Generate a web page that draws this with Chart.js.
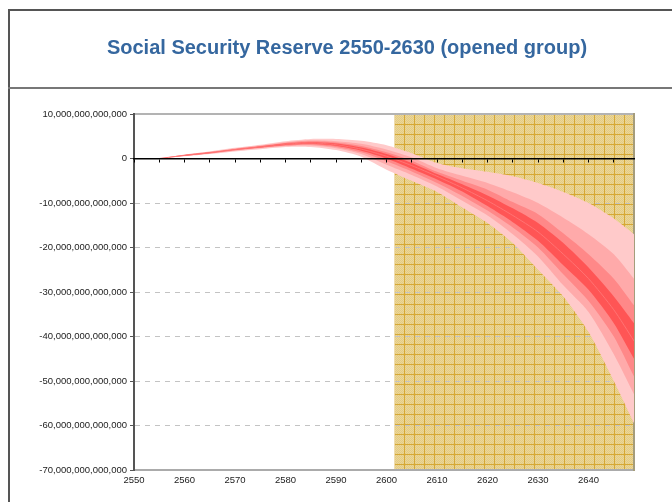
<!DOCTYPE html>
<html>
<head>
<meta charset="utf-8">
<script src="https://cdn.jsdelivr.net/npm/chart.js@4/dist/chart.umd.min.js"></script>
<style>
	body { margin: 0; background: #fff; overflow: hidden; }
	.frame { position: absolute; left: 8px; top: 9px; width: 700px; height: 520px; border-left: 2px solid #555; border-top: 2px solid #555; }
	.rule { position: absolute; left: 8px; top: 87px; width: 700px; height: 0; border-top: 2px solid #777; }
	canvas { position: absolute; left: 0; top: 0; }
</style>
</head>
<body>
<div class="frame"></div>
<div class="rule"></div>
<canvas id="chart" width="672" height="502"></canvas>
<script>
// values in trillions (1e12)
const years = [2555, 2560, 2565, 2570, 2575, 2580, 2585, 2590, 2595, 2600, 2605, 2610, 2615, 2620, 2625, 2630, 2635, 2640, 2645, 2649];
const median = [0, 0.7, 1.3, 2.0, 2.6, 3.2, 3.5, 3.1, 2.1, 0.5, -1.6, -4.0, -6.6, -9.5, -12.8, -16.5, -21.5, -27, -34, -41];
const hi1 = [0, 0.9, 1.6, 2.4, 3.1, 3.9, 4.4, 4.4, 4.0, 3.0, 1.2, -1.0, -2.2, -3.0, -4.0, -5.5, -7.5, -10, -13.5, -17];
const hi2 = [0, 0.85, 1.5, 2.25, 2.9, 3.65, 4.1, 3.9, 3.3, 2.0, 0.2, -2.2, -3.9, -5.5, -7.6, -10, -13.3, -17, -21.5, -27];
const hi3 = [0, 0.8, 1.45, 2.15, 2.8, 3.5, 3.85, 3.6, 2.8, 1.4, -0.5, -3.0, -5.0, -7.0, -9.8, -12.5, -16.8, -21.5, -27, -33];
const hi4 = [0, 0.75, 1.35, 2.05, 2.7, 3.35, 3.65, 3.35, 2.45, 1.0, -1.0, -3.5, -5.8, -8.3, -11.2, -14.5, -19, -24.5, -31, -37];
const lo4 = [0, 0.65, 1.25, 1.95, 2.5, 3.05, 3.3, 2.85, 1.75, 0, -2.3, -4.7, -7.4, -10.7, -14.3, -18.5, -24, -29.5, -37, -45];
const lo3 = [0, 0.6, 1.15, 1.85, 2.4, 2.9, 3.1, 2.6, 1.4, -0.6, -2.9, -5.5, -8.4, -11.7, -15.5, -20, -26, -32, -40, -49];
const lo2 = [0, 0.55, 1.1, 1.75, 2.3, 2.8, 2.9, 2.3, 1.0, -1.4, -3.7, -6.3, -9.5, -12.8, -17.0, -22, -28.5, -34.5, -44, -53];
const lo1 = [0, 0.5, 1.0, 1.6, 2.1, 2.6, 2.6, 1.9, 0.4, -2.5, -5.0, -7.5, -11.0, -14.5, -19.0, -25, -31, -39, -50, -59.5];

const xMin = 2550, xMax = 2649;
const yMin = -70, yMax = 10;
const shadeFrom = 2601.6;

const tickFont = { family: 'Liberation Sans', size: 9.5 };

function pts(arr) {
	return years.map((x, i) => ({ x: x, y: arr[i] }));
}

function band(arr, color, target) {
	return {
		data: pts(arr),
		xAxisID: 'x',
		yAxisID: 'y',
		borderWidth: 0,
		borderColor: color,
		backgroundColor: color,
		pointRadius: 0,
		tension: 0.25,
		fill: target === undefined ? false : target,
	};
}

function goldPattern(ctx) {
	const c = document.createElement('canvas');
	c.width = 10;
	c.height = 10;
	const p = c.getContext('2d');
	p.fillStyle = '#ECD797';
	p.fillRect(0, 0, 10, 10);
	p.fillStyle = '#E3CA84';
	for (let i = 0; i < 10; i++) {
		for (let j = 0; j < 10; j++) {
			if ((i + j) % 2 === 0) p.fillRect(i, j, 1, 1);
		}
	}
	p.fillStyle = '#D6A834';
	p.fillRect(4, 0, 1, 10);
	p.fillRect(0, 4, 10, 1);
	return ctx.createPattern(c, 'repeat');
}

// shaded projection zone, drawn under the grid
const shadePlugin = {
	id: 'shade',
	beforeDraw(chart) {
		const { ctx, chartArea: a } = chart;
		const left = chart.scales.x.getPixelForValue(shadeFrom);
		ctx.save();
		ctx.fillStyle = goldPattern(ctx);
		ctx.fillRect(left, a.top, a.right - left, a.bottom - a.top);
		ctx.restore();
	},
};

const chart = new Chart(document.getElementById('chart'), {
	type: 'line',
	data: {
		datasets: [
			{ ...band(median, '#FF7373'), borderWidth: 1 },
			band(hi4, '#FF5555', 2),
			band(lo4, '#FF5555'),
			band(hi3, '#FF8888', 4),
			band(lo3, '#FF8888'),
			band(hi2, '#FFAAAA', 6),
			band(lo2, '#FFAAAA'),
			band(hi1, '#FFCACA', 8),
			band(lo1, '#FFCACA'),
		],
	},
	options: {
		responsive: false,
		animation: false,
		layout: { padding: { left: 30, right: 8, top: 0, bottom: 4 } },
		plugins: {
			legend: { display: false },
			tooltip: { enabled: false },
			title: {
				display: true,
				text: 'Social Security Reserve 2550-2630 (opened group)',
				color: '#35679F',
				font: { family: 'Liberation Sans', size: 20, weight: 'bold' },
				padding: { top: 36, bottom: 54 },
			},
		},
		scales: {
			x: {
				type: 'linear',
				position: 'bottom',
				min: xMin,
				max: xMax,
				grid: { display: false, drawTicks: false },
				border: { color: '#ABABAB', width: 2 },
				ticks: {
					stepSize: 10,
					includeBounds: false,
					autoSkip: false,
					maxRotation: 0,
					padding: 5,
					color: '#222',
					font: tickFont,
					callback: (v) => String(v),
				},
				afterFit: (s) => { s.height = 28; },
			},
			xZero: {
				type: 'linear',
				axis: 'x',
				position: { y: 0 },
				min: xMin,
				max: xMax,
				grid: { drawOnChartArea: false, drawTicks: true, tickLength: 3, tickColor: '#000', tickWidth: 1, z: 1 },
				border: { color: '#000', width: 1.5, z: 1 },
				ticks: { display: false, stepSize: 5, includeBounds: false, autoSkip: false },
			},
			xTop: {
				type: 'linear',
				axis: 'x',
				position: 'top',
				min: xMin,
				max: xMax,
				grid: { display: false, drawTicks: false },
				border: { color: '#B3B3B3', width: 2 },
				ticks: { display: false },
				afterFit: (s) => { s.height = 0; },
			},
			y: {
				type: 'linear',
				position: 'left',
				min: yMin,
				max: yMax,
				grid: {
					color: (c) => (c.tick && (c.tick.value === yMax || c.tick.value === 0) ? 'rgba(0,0,0,0)' : '#C3C3C3'),
					tickColor: '#555',
					tickLength: 4,
				},
				border: { color: '#555', width: 2, dash: [5, 5] },
				ticks: {
					stepSize: 10,
					padding: 3,
					color: '#222',
					font: tickFont,
					callback: (v) => Math.round(v * 1e12).toLocaleString('en-US'),
				},
				afterFit: (s) => { s.width = 104; },
			},
			yRight: {
				type: 'linear',
				axis: 'y',
				position: 'right',
				min: yMin,
				max: yMax,
				grid: { display: false, drawTicks: false },
				border: { color: '#A59D7C', width: 2 },
				ticks: { display: false },
				afterFit: (s) => { s.width = 30; },
			},
		},
	},
	plugins: [shadePlugin],
});
</script>
</body>
</html>
